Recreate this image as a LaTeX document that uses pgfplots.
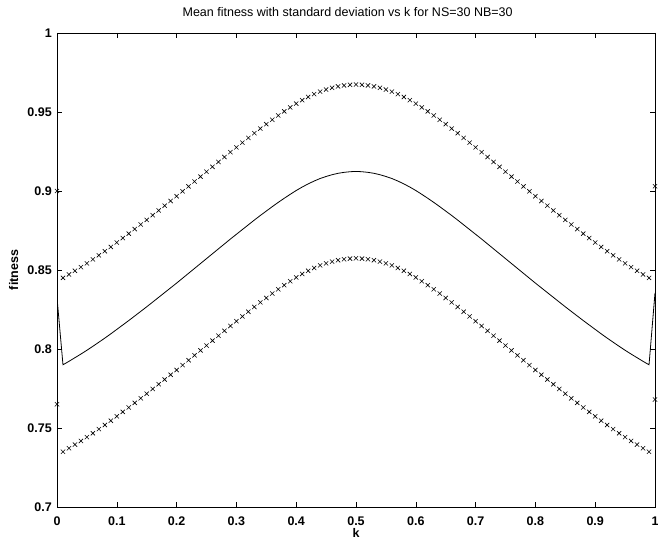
\documentclass[border=0pt]{standalone}
\usepackage{pgfplots}
\pgfplotsset{compat=1.18}
\usepackage{pgfplotstable}
\usepackage{fontspec}
\setmainfont{Liberation Sans}

\pgfplotstableread{
k m u l
0.00 0.8325 0.9000 0.7650
0.01 0.7900 0.8450 0.7350
0.02 0.7922 0.8472 0.7372
0.03 0.7945 0.8495 0.7395
0.04 0.7968 0.8518 0.7418
0.05 0.7992 0.8542 0.7442
0.06 0.8017 0.8567 0.7467
0.07 0.8043 0.8593 0.7493
0.08 0.8069 0.8619 0.7519
0.09 0.8096 0.8646 0.7546
0.10 0.8124 0.8674 0.7574
0.11 0.8152 0.8702 0.7602
0.12 0.8180 0.8730 0.7630
0.13 0.8209 0.8759 0.7659
0.14 0.8238 0.8788 0.7688
0.15 0.8267 0.8817 0.7717
0.16 0.8297 0.8847 0.7747
0.17 0.8327 0.8877 0.7777
0.18 0.8357 0.8907 0.7807
0.19 0.8387 0.8937 0.7837
0.20 0.8417 0.8967 0.7867
0.21 0.8448 0.8998 0.7898
0.22 0.8479 0.9029 0.7929
0.23 0.8510 0.9060 0.7960
0.24 0.8541 0.9091 0.7991
0.25 0.8572 0.9122 0.8022
0.26 0.8603 0.9153 0.8053
0.27 0.8634 0.9184 0.8084
0.28 0.8665 0.9215 0.8115
0.29 0.8696 0.9246 0.8146
0.30 0.8726 0.9276 0.8176
0.31 0.8756 0.9306 0.8206
0.32 0.8786 0.9336 0.8236
0.33 0.8816 0.9366 0.8266
0.34 0.8845 0.9395 0.8295
0.35 0.8873 0.9423 0.8323
0.36 0.8901 0.9451 0.8351
0.37 0.8928 0.9478 0.8378
0.38 0.8954 0.9504 0.8404
0.39 0.8979 0.9529 0.8429
0.40 0.9003 0.9553 0.8453
0.41 0.9025 0.9575 0.8475
0.42 0.9045 0.9595 0.8495
0.43 0.9063 0.9613 0.8513
0.44 0.9079 0.9629 0.8529
0.45 0.9092 0.9642 0.8542
0.46 0.9103 0.9653 0.8553
0.47 0.9112 0.9662 0.8562
0.48 0.9118 0.9668 0.8568
0.49 0.9122 0.9672 0.8572
0.50 0.9124 0.9674 0.8574
0.51 0.9122 0.9672 0.8572
0.52 0.9118 0.9668 0.8568
0.53 0.9112 0.9662 0.8562
0.54 0.9103 0.9653 0.8553
0.55 0.9092 0.9642 0.8542
0.56 0.9079 0.9629 0.8529
0.57 0.9063 0.9613 0.8513
0.58 0.9045 0.9595 0.8495
0.59 0.9025 0.9575 0.8475
0.60 0.9003 0.9553 0.8453
0.61 0.8979 0.9529 0.8429
0.62 0.8954 0.9504 0.8404
0.63 0.8928 0.9478 0.8378
0.64 0.8901 0.9451 0.8351
0.65 0.8873 0.9423 0.8323
0.66 0.8845 0.9395 0.8295
0.67 0.8816 0.9366 0.8266
0.68 0.8786 0.9336 0.8236
0.69 0.8756 0.9306 0.8206
0.70 0.8726 0.9276 0.8176
0.71 0.8696 0.9246 0.8146
0.72 0.8665 0.9215 0.8115
0.73 0.8634 0.9184 0.8084
0.74 0.8603 0.9153 0.8053
0.75 0.8572 0.9122 0.8022
0.76 0.8541 0.9091 0.7991
0.77 0.8510 0.9060 0.7960
0.78 0.8479 0.9029 0.7929
0.79 0.8448 0.8998 0.7898
0.80 0.8417 0.8967 0.7867
0.81 0.8387 0.8937 0.7837
0.82 0.8357 0.8907 0.7807
0.83 0.8327 0.8877 0.7777
0.84 0.8297 0.8847 0.7747
0.85 0.8267 0.8817 0.7717
0.86 0.8238 0.8788 0.7688
0.87 0.8209 0.8759 0.7659
0.88 0.8180 0.8730 0.7630
0.89 0.8152 0.8702 0.7602
0.90 0.8124 0.8674 0.7574
0.91 0.8096 0.8646 0.7546
0.92 0.8069 0.8619 0.7519
0.93 0.8043 0.8593 0.7493
0.94 0.8017 0.8567 0.7467
0.95 0.7992 0.8542 0.7442
0.96 0.7968 0.8518 0.7418
0.97 0.7945 0.8495 0.7395
0.98 0.7922 0.8472 0.7372
0.99 0.7900 0.8450 0.7350
1.00 0.8355 0.9030 0.7680
}\fitdata

\begin{document}
\begin{tikzpicture}
\begin{axis}[
  scale only axis,
  width=598bp, height=474bp,
  xmin=0, xmax=1, ymin=0.7, ymax=1,
  xtick={0,0.1,0.2,0.3,0.4,0.5,0.6,0.7,0.8,0.9,1},
  ytick={0.7,0.75,0.8,0.85,0.9,0.95,1},
  tick align=inside,
  major tick length=5bp,
  tick style={black, line width=0.6pt},
  axis line style={line width=0.8pt},
  /pgf/number format/assume math mode=true,
  /pgf/number format/fixed,
  /pgf/number format/precision=2,
  tick label style={font=\fontsize{12.5bp}{15bp}\selectfont\bfseries},
  xticklabel style={anchor=base, inner sep=0pt, yshift=-18bp},
  yticklabel style={anchor=east, inner sep=0pt, xshift=-5bp},
  title={Mean fitness with standard deviation vs k for NS=30 NB=30},
  title style={font=\fontsize{12.5bp}{15bp}\selectfont, at={(axis description cs:0.486,1.0232)}, anchor=base, inner sep=0pt},
  xlabel={k},
  ylabel={fitness},
  label style={font=\fontsize{12.5bp}{15bp}\selectfont\bfseries, inner sep=0pt},
  xlabel style={at={(axis description cs:0.5,-0.0635)}, anchor=base},
  ylabel style={at={(axis description cs:-0.0652,0.5)}, anchor=base, rotate=0},
]
\addplot[black, line width=0.8pt, mark=none] table[x=k, y=m] {\fitdata};
\addplot[black, only marks, mark=x, mark size=3bp, mark options={line width=0.6pt}] table[x=k, y=u] {\fitdata};
\addplot[black, only marks, mark=x, mark size=3bp, mark options={line width=0.6pt}] table[x=k, y=l] {\fitdata};
\end{axis}
\pgfresetboundingbox
\useasboundingbox ([shift={(-57bp,-33bp)}]current axis.south west) rectangle ([shift={(3bp,33bp)}]current axis.north east);
\end{tikzpicture}
\end{document}
